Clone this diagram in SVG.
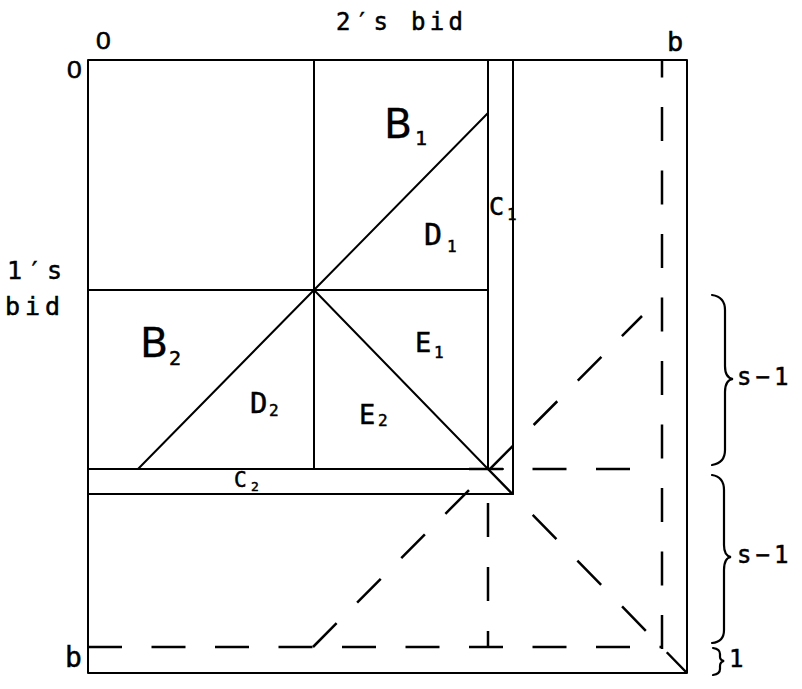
<svg xmlns="http://www.w3.org/2000/svg" width="802" height="689" viewBox="0 0 802 689">
<style>
.s{fill:none;stroke:#000;stroke-width:2;stroke-linecap:round;stroke-linejoin:round}
.d{fill:none;stroke:#000;stroke-width:2.5;stroke-linecap:butt}
.h{stroke-dasharray:34 29.5}
.g{stroke-dasharray:33.5 29.1}
.k{stroke-dasharray:34 30}
.m{font-family:"DejaVu Sans Mono","Liberation Mono",monospace;fill:#000;stroke:#000;stroke-width:0.5}
.t{font-family:"DejaVu Sans","Liberation Sans",sans-serif;fill:#000;stroke:#000;stroke-width:0.3}
.z{font-family:"Liberation Sans","DejaVu Sans",sans-serif;fill:#000;stroke:#000;stroke-width:0.5}
.br{fill:none;stroke:#000;stroke-width:2.2;stroke-linecap:round}
</style>
<rect width="802" height="689" fill="#fff"/>
<g id="axes">
<text class="m" x="336" y="30" font-size="24" letter-spacing="4.3">2′s bid</text>
<text class="z" transform="translate(96,48.5) scale(1.15,1)" font-size="23">0</text>
<text class="z" transform="translate(67,77.5) scale(1.15,1)" font-size="23">0</text>
<text class="m" x="667" y="51" font-size="27">b</text>
<text class="m" x="65" y="667" font-size="28">b</text>
<text class="m" x="7" y="279" font-size="25" letter-spacing="5">1′s</text>
<text class="m" x="5" y="315" font-size="25" letter-spacing="5">bid</text>
</g>
<g id="frame">
<rect class="s" x="88" y="60" width="599" height="613"/>
</g>
<g id="regions">
<line class="s" x1="314" y1="60" x2="314" y2="469"/>
<line class="s" x1="88" y1="290" x2="488" y2="290"/>
<line class="s" x1="488" y1="60" x2="488" y2="469"/>
<line class="s" x1="513" y1="60" x2="513" y2="494"/>
<line class="s" x1="88" y1="469" x2="503" y2="469"/>
<line class="s" x1="88" y1="494" x2="513" y2="494"/>
<line class="s" x1="314" y1="290" x2="488" y2="113"/>
<line class="s" x1="314" y1="290" x2="138" y2="469"/>
<line class="s" x1="314" y1="290" x2="488" y2="469"/>
</g>
<g id="connectors">
<line class="d h" x1="88" y1="647" x2="662" y2="647"/>
<line class="d h" x1="662" y1="649" x2="662" y2="60"/>
<line class="d h" x1="469" y1="469" x2="640" y2="469"/>
<line class="d k" x1="488" y1="503" x2="488" y2="647"/>
<line class="d g" x1="313" y1="647" x2="642" y2="316"/>
<line class="d k" x1="488" y1="469" x2="687" y2="673"/>
</g>
<g id="labels">
<text class="t" x="384" y="138" font-size="41">B</text>
<text class="m" x="415" y="145" font-size="20">1</text>
<text class="t" x="140" y="357" font-size="41">B</text>
<text class="m" x="169" y="365" font-size="20">2</text>
<text class="m" x="424" y="245" font-size="30">D</text>
<text class="m" x="447" y="252" font-size="16">1</text>
<text class="m" x="489" y="215" font-size="25">C</text>
<text class="m" x="507" y="220" font-size="16">1</text>
<text class="m" x="250" y="413" font-size="29">D</text>
<text class="m" x="269" y="416" font-size="16">2</text>
<text class="m" x="359" y="424" font-size="27">E</text>
<text class="m" x="378" y="426" font-size="16">2</text>
<text class="m" x="415" y="352" font-size="27">E</text>
<text class="m" x="434" y="358" font-size="16">1</text>
<text class="m" x="234" y="487" font-size="21">C</text>
<text class="m" x="251" y="491" font-size="13">2</text>
</g>
<g id="braces">
<path class="br" d="M712,295 Q725,297 725,310 L725,366 Q725,378 733,379 Q725,380 725,392 L725,450 Q725,463 712,465"/>
<path class="br" d="M712,475 Q724,477 724,490 L724,545 Q724,556 731,557 Q724,558 724,570 L724,630 Q724,642 712,643"/>
<path class="br" d="M713,648 Q720,649 720,654 L720,657 Q720,660 724,661 Q720,662 720,666 L720,669 Q720,674 713,675"/>
<text class="m" x="737" y="385" font-size="24" letter-spacing="4">s−1</text>
<text class="m" x="737" y="563" font-size="24" letter-spacing="4">s−1</text>
<text class="m" x="729" y="667" font-size="24">1</text>
</g>
</svg>
